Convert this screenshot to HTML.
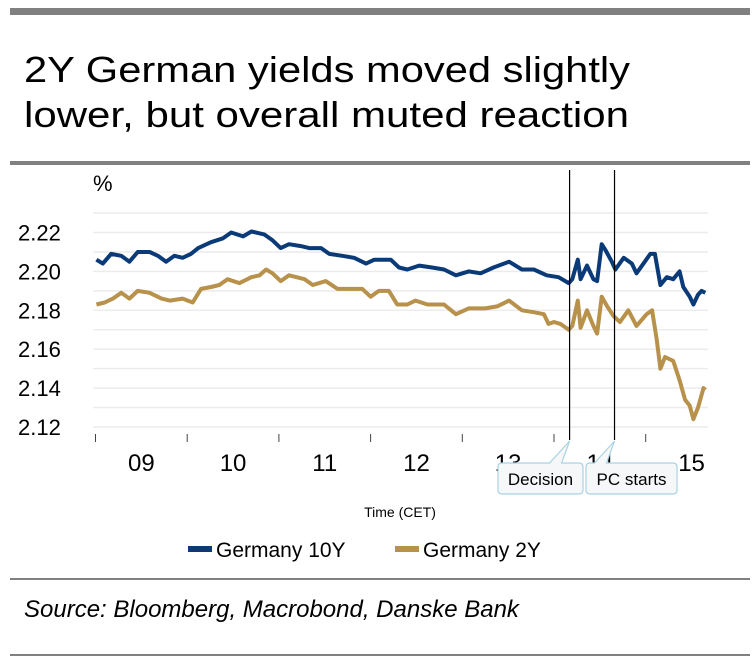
<!DOCTYPE html>
<html><head><meta charset="utf-8"><style>
body{margin:0;background:#fff;}
svg{display:block;font-family:"Liberation Sans",sans-serif;}
</style></head><body>
<svg id="chart" width="755" height="670" viewBox="0 0 755 670">
<rect x="10" y="8" width="740" height="7" fill="#808080"/>
<text x="24" y="82" font-size="36" textLength="606" lengthAdjust="spacingAndGlyphs" fill="#000">2Y German yields moved slightly</text>
<text x="24" y="127" font-size="36" textLength="605" lengthAdjust="spacingAndGlyphs" fill="#000">lower, but overall muted reaction</text>
<rect x="10" y="161" width="740" height="4" fill="#808080"/>
<text x="93" y="191" font-size="22">%</text>
<g id="grid"></g>
<g id="ylabels"></g>
<g id="xaxis"></g>
<g id="series"></g>
<g id="events"></g>
<text x="400" y="517" font-size="14" text-anchor="middle">Time (CET)</text>
<g>
<g><rect x="188" y="546" width="24" height="6" fill="#0a3a78"/><text x="216" y="557" font-size="21">Germany 10Y</text></g>
<g><rect x="395" y="546" width="24" height="6" fill="#b8914a"/><text x="423" y="557" font-size="21">Germany 2Y</text></g>
</g>
<rect x="10" y="578" width="740" height="2" fill="#808080"/>
<text x="24" y="617" font-size="24" font-style="italic">Source: Bloomberg, Macrobond, Danske Bank</text>
<rect x="10" y="654" width="740" height="2" fill="#808080"/>
</svg>
<script>
const yTicks=[2.12,2.14,2.16,2.18,2.20,2.22];
const gridVals=[2.12,2.13,2.14,2.15,2.16,2.17,2.18,2.19,2.20,2.21,2.22,2.23];
const hourTicks=[9,10,11,12,13,14,15,16];
const hourLabels=["09","10","11","12","13","14","15"];
const t10=[9.01,9.08,9.17,9.28,9.37,9.46,9.59,9.68,9.77,9.86,9.95,10.04,10.12,10.26,10.39,10.48,10.61,10.70,10.84,10.93,11.02,11.11,11.24,11.33,11.46,11.55,11.69,11.82,11.95,12.04,12.22,12.31,12.40,12.53,12.67,12.80,12.93,13.07,13.20,13.34,13.51,13.65,13.78,13.92,14.05,14.16,14.20,14.26,14.29,14.36,14.43,14.47,14.52,14.56,14.63,14.67,14.76,14.85,14.90,14.99,15.05,15.10,15.16,15.23,15.30,15.37,15.41,15.48,15.52,15.57,15.61,15.65];
const y10=[2.206,2.204,2.209,2.208,2.205,2.210,2.210,2.208,2.205,2.208,2.207,2.209,2.212,2.215,2.217,2.220,2.218,2.2205,2.219,2.216,2.212,2.214,2.213,2.212,2.212,2.209,2.208,2.207,2.204,2.206,2.206,2.202,2.201,2.203,2.202,2.201,2.198,2.200,2.199,2.202,2.205,2.201,2.201,2.198,2.197,2.194,2.196,2.206,2.196,2.203,2.196,2.195,2.214,2.211,2.205,2.201,2.207,2.204,2.199,2.205,2.209,2.209,2.193,2.197,2.196,2.200,2.192,2.187,2.183,2.188,2.190,2.189];
const t2=[9.01,9.10,9.19,9.28,9.37,9.46,9.59,9.72,9.81,9.95,10.06,10.15,10.26,10.35,10.44,10.57,10.70,10.79,10.86,10.93,11.02,11.11,11.28,11.37,11.51,11.64,11.77,11.91,12.00,12.09,12.20,12.29,12.40,12.49,12.62,12.80,12.93,13.07,13.25,13.38,13.51,13.65,13.78,13.89,13.94,14.00,14.07,14.16,14.20,14.26,14.29,14.36,14.43,14.47,14.52,14.58,14.65,14.72,14.81,14.90,15.01,15.07,15.12,15.16,15.21,15.30,15.37,15.43,15.48,15.52,15.57,15.63,15.65];
const y2=[2.183,2.184,2.186,2.189,2.186,2.190,2.189,2.186,2.185,2.186,2.184,2.191,2.192,2.193,2.196,2.194,2.197,2.198,2.201,2.199,2.195,2.198,2.196,2.193,2.195,2.191,2.191,2.191,2.187,2.190,2.190,2.183,2.183,2.185,2.183,2.183,2.178,2.181,2.181,2.182,2.185,2.180,2.179,2.178,2.173,2.174,2.173,2.170,2.172,2.185,2.171,2.180,2.172,2.168,2.187,2.182,2.177,2.174,2.180,2.172,2.178,2.180,2.165,2.150,2.156,2.154,2.144,2.134,2.131,2.124,2.130,2.140,2.139];
const eventTimes=[14.17,14.66];
const eventLabels=["Decision","PC starts"];

const NS="http://www.w3.org/2000/svg";
const X0=95.5,PX_H=91.7,Y0=427,PX_V=1945;
const xs=t=>X0+(t-9)*PX_H;
const ys=v=>Y0-(v-2.12)*PX_V;
function mk(tag,attrs,parent){const e=document.createElementNS(NS,tag);for(const k in attrs)e.setAttribute(k,attrs[k]);parent.appendChild(e);return e;}
const grid=document.getElementById('grid');
gridVals.forEach(v=>{const l=mk('line',{x1:93,x2:708,y1:ys(v),y2:ys(v),stroke:'#ececec','stroke-width':1.5},grid);

});
const yl=document.getElementById('ylabels');
yTicks.forEach(v=>{const t=mk('text',{x:18,y:ys(v)+8,'font-size':22},yl);t.textContent=v.toFixed(2);

});
const xa=document.getElementById('xaxis');
hourTicks.forEach(h=>{if(xs(h)>712)return;const l=mk('line',{x1:xs(h),x2:xs(h),y1:434,y2:442,stroke:'#444','stroke-width':1},xa);

});
hourLabels.forEach((s,i)=>{const t=mk('text',{x:xs(9+i+0.5),y:471,'font-size':24,'text-anchor':'middle'},xa);t.textContent=s;

});
const se=document.getElementById('series');
function line(T,Y,c,name){const p=mk('polyline',{points:T.map((t,i)=>xs(t).toFixed(1)+','+ys(Y[i]).toFixed(1)).join(' '),fill:'none',stroke:c,'stroke-width':4,'stroke-linejoin':'round'},se);

}
line(t2,y2,'#b8914a','series-germany-2y');
line(t10,y10,'#0a3a78','series-germany-10y');
const ev=document.getElementById('events');
eventTimes.forEach((t,i)=>{const x=xs(t);
const l=mk('line',{x1:x,x2:x,y1:170,y2:440,stroke:'#000','stroke-width':1.2},ev);


const w=i==0?85:91,bx=i==0?498:586;
const p=mk('path',{d:`M${bx+4},463 H${x-20} L${x},441 L${x-8},463 H${bx+w-4} Q${bx+w},463 ${bx+w},467 V490 Q${bx+w},494 ${bx+w-4},494 H${bx+4} Q${bx},494 ${bx},490 V467 Q${bx},463 ${bx+4},463 Z`,fill:'#f6f7f8',stroke:'#a9d3e3','stroke-width':1.2},ev);


const tx=mk('text',{x:bx+w/2,y:485,'font-size':17,'text-anchor':'middle'},ev);tx.textContent=eventLabels[i];

});
</script>
</body></html>
